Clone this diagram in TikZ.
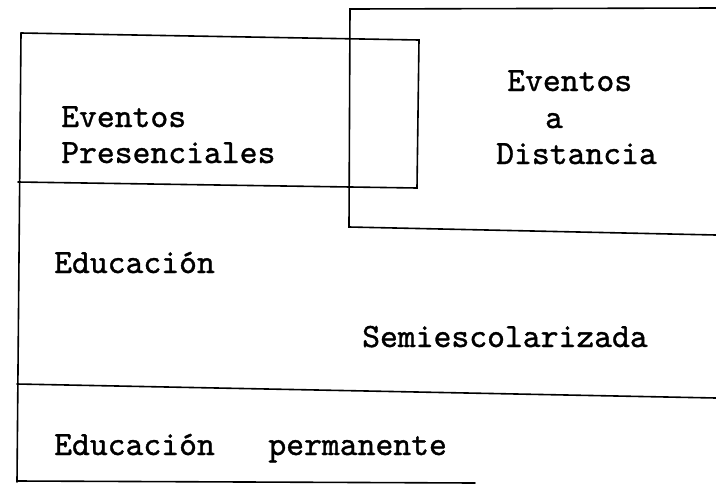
\documentclass[tikz,border=0pt]{standalone}
\usepackage{fontspec}
\newfontfamily\typefont{lmmono10-regular.otf}[FakeBold=1.1]
\begin{document}
\begin{tikzpicture}[x=1pt,y=-1pt,
  rule/.style={line width=1.6pt,line cap=round},
  lbl/.style={font=\fontsize{34}{40}\selectfont\typefont,anchor=base west,inner sep=0pt}]
\useasboundingbox (0,0) rectangle (716,491);
% marcos
\draw[rule] (21,33) -- (17,482);
\draw[rule] (21,33) -- (419,40) -- (417,188) -- (18,182);
\draw[rule] (716,8) -- (350,9) -- (349,227) -- (716,235);
\draw[rule] (17,384) -- (716,398);
\draw[rule] (17,481) -- (475,483);
% textos
\node[lbl] (presA) at (61,127) {Eventos};
\node[lbl] (presB) at (61,163) {Presenciales};
\node[lbl] (distA) at (507,91) {Eventos};
\node[lbl] (distB) at (545,128) {a};
\node[lbl] (distC) at (496,164) {Distancia};
\node[lbl] (semiA) at (54,273) {Educación};
\node[lbl] (semiB) at (362,347) {Semiescolarizada};
\node[lbl] (perm) at (54,455) {Educación\ \ \ permanente};
\end{tikzpicture}
\end{document}
